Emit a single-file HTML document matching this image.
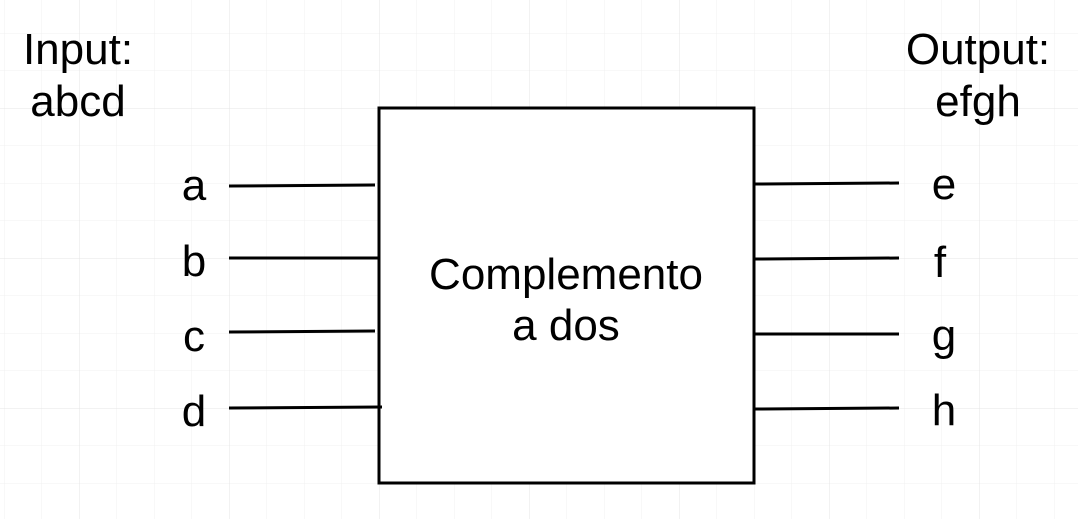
<!DOCTYPE html>
<html><head><style>
html,body{margin:0;padding:0;background:#fff;}
svg{display:block;}
text{font-family:"Liberation Sans",Arial,sans-serif;font-size:44px;fill:#000;}
</style></head><body>
<svg width="1078" height="519" viewBox="0 0 1078 519" xmlns="http://www.w3.org/2000/svg">
<defs>
<pattern id="minor" x="4" y="-4.5" width="37.5" height="37.5" patternUnits="userSpaceOnUse">
<path d="M0 0H37.5M0 0V37.5" stroke="#f0f0f0" stroke-width="1" fill="none"/>
</pattern>
<pattern id="major" x="79" y="108" width="150" height="150" patternUnits="userSpaceOnUse">
<path d="M0 0H150M0 0V150" stroke="#e4e4e4" stroke-width="1" fill="none"/>
</pattern>
</defs>
<rect width="1078" height="519" fill="url(#minor)"/>
<rect width="1078" height="519" fill="url(#major)"/>
<rect x="379" y="108" width="375" height="375" fill="#fff" stroke="#000" stroke-width="3"/>
<g stroke="#000" stroke-width="3">
<line x1="229" y1="186" x2="375" y2="185"/>
<line x1="229" y1="258" x2="379" y2="258"/>
<line x1="229" y1="332" x2="375" y2="331"/>
<line x1="229" y1="408" x2="382" y2="407"/>
<line x1="754" y1="184" x2="899" y2="183"/>
<line x1="754" y1="259" x2="899" y2="258"/>
<line x1="754" y1="334" x2="899" y2="334"/>
<line x1="754" y1="409" x2="899" y2="408"/>
</g>
<g text-anchor="middle">
<text x="78" y="64">Input:</text>
<text x="78" y="116">abcd</text>
<text x="978" y="64">Output:</text>
<text x="978" y="116">efgh</text>
<text x="194" y="200">a</text>
<text x="194" y="276">b</text>
<text x="194" y="351">c</text>
<text x="194" y="426">d</text>
<text x="944" y="199">e</text>
<text x="940" y="277">f</text>
<text x="944" y="350">g</text>
<text x="944" y="425">h</text>
<text x="566" y="289">Complemento</text>
<text x="566" y="340">a dos</text>
</g>
</svg>
</body></html>
